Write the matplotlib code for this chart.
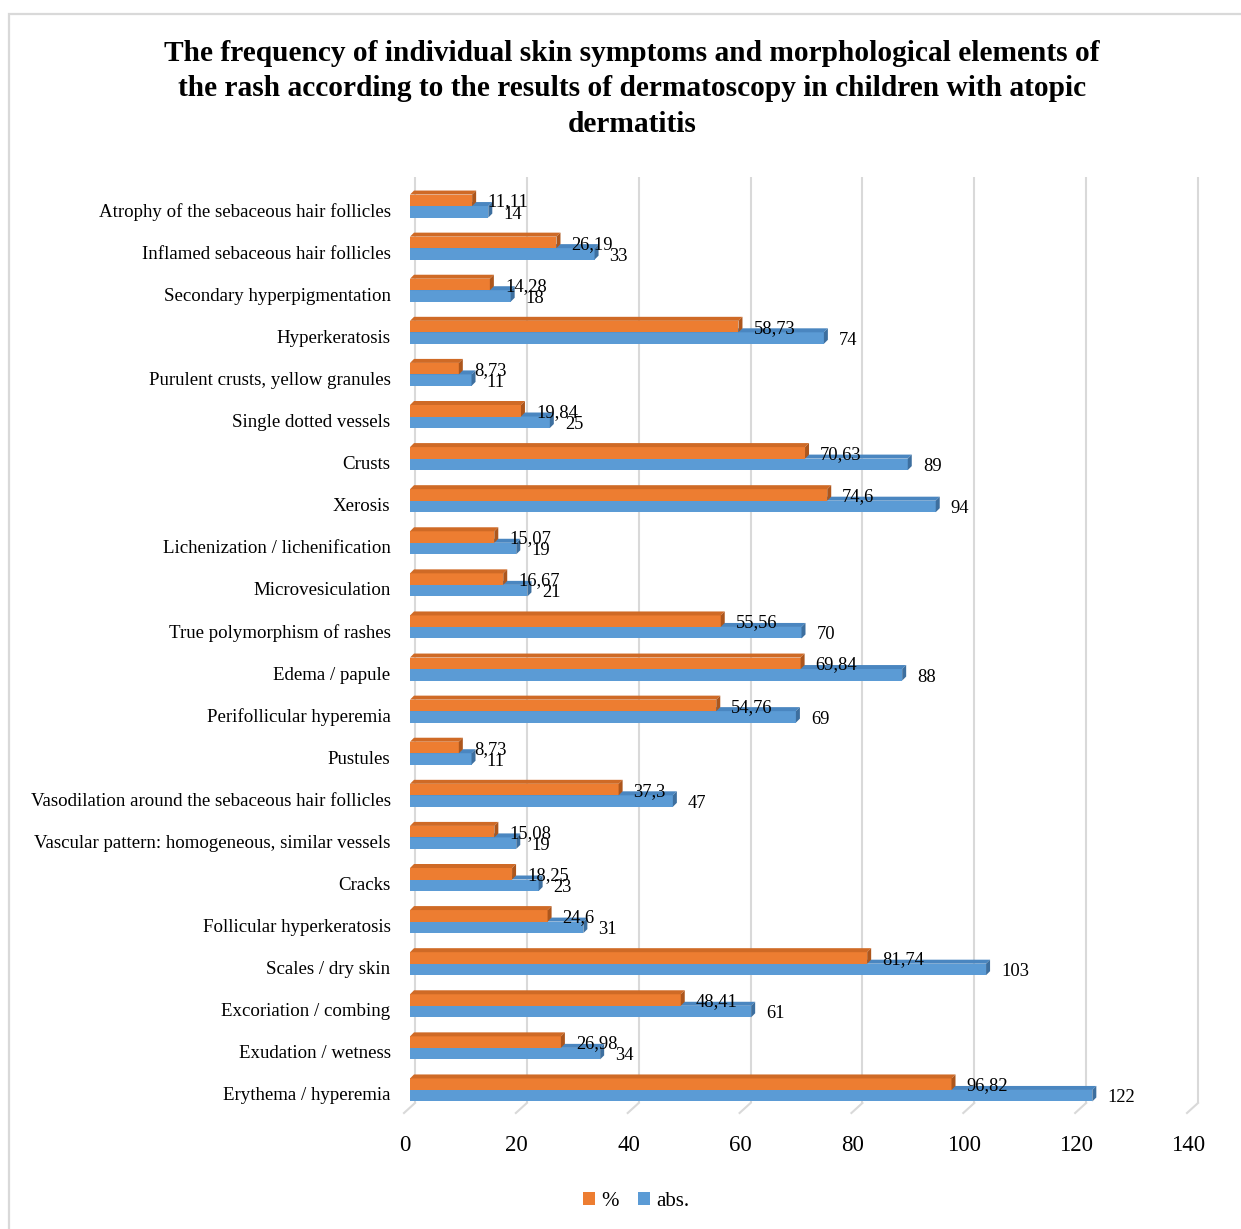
import matplotlib
matplotlib.use("Agg")
import matplotlib.pyplot as plt
from matplotlib.patches import Polygon, Rectangle, Patch
from matplotlib.transforms import ScaledTranslation

plt.rcParams['font.family'] = ['Liberation Serif', 'DejaVu Serif']

# Categories listed from the bottom of the chart to the top
categories = [
    "Erythema / hyperemia",
    "Exudation / wetness",
    "Excoriation / combing",
    "Scales / dry skin",
    "Follicular hyperkeratosis",
    "Cracks",
    "Vascular pattern: homogeneous, similar vessels",
    "Vasodilation around the sebaceous hair follicles",
    "Pustules",
    "Perifollicular hyperemia",
    "Edema / papule",
    "True polymorphism of rashes",
    "Microvesiculation",
    "Lichenization / lichenification",
    "Xerosis",
    "Crusts",
    "Single dotted vessels",
    "Purulent crusts, yellow granules",
    "Hyperkeratosis",
    "Secondary hyperpigmentation",
    "Inflamed sebaceous hair follicles",
    "Atrophy of the sebaceous hair follicles",
]
percent = [96.82, 26.98, 48.41, 81.74, 24.6, 18.25, 15.08, 37.3, 8.73, 54.76,
           69.84, 55.56, 16.67, 15.07, 74.6, 70.63, 19.84, 8.73, 58.73, 14.28,
           26.19, 11.11]
absolute = [122, 34, 61, 103, 31, 23, 19, 47, 11, 69, 88, 70, 21, 19, 94, 89,
            25, 11, 74, 18, 33, 14]
xticks = [0, 20, 40, 60, 80, 100, 120, 140]
series_names = ["%", "abs."]

title = ("The frequency of individual skin symptoms and morphological elements of\n"
         "the rash according to the results of dermatoscopy in children with atopic\n"
         "dermatitis")

W, H = 1241, 1229
fig = plt.figure(figsize=(W / 100, H / 100), dpi=100)
fig.patch.set_facecolor("white")

# outer chart-area border
fig.patches.append(Rectangle((9 / W, -0.05), 1.2, 1 - 14 / H + 0.05,
                             transform=fig.transFigure, fill=False,
                             edgecolor="#d9d9d9", linewidth=1.6, zorder=0))

ax_l, ax_r, ax_t, ax_b = 410, 1193, 185, 1111
ax = fig.add_axes([ax_l / W, 1 - ax_b / H, (ax_r - ax_l) / W, (ax_b - ax_t) / H])
ax.set_xlim(0, 140)
ax.set_ylim(-0.5, len(categories) - 0.5)
for s in ax.spines.values():
    s.set_visible(False)

px = 1 / 100.0
def off(dx, dy):
    return ScaledTranslation(dx * px, dy * px, fig.dpi_scale_trans)

x_per_px = 140 / (ax_r - ax_l)
y_per_px = len(categories) / (ax_b - ax_t)
y_axes_per_px = 1 / (ax_b - ax_t)

# gridlines on the back wall, joined to the front edge by a slanted floor line
grid_c = "#d9d9d9"
xa = ax.get_xaxis_transform()
for v in xticks:
    ax.plot([v, v], [0, 1], transform=xa + off(5, 8), color=grid_c,
            lw=1.5, zorder=1, clip_on=False, solid_capstyle="butt")
    ax.plot([v + 5 * x_per_px, v - 6 * x_per_px],
            [8 * y_axes_per_px, -2 * y_axes_per_px],
            transform=xa, color=grid_c, lw=1.5, zorder=1, clip_on=False)

# bars with a shallow 3-D look
dx, dy = 4 * x_per_px, 4 * y_per_px
bh = 11.5 * y_per_px

orange, orange_top, orange_side = "#ed7d31", "#cf6a26", "#ad561c"
blue, blue_top, blue_side = "#5b9bd5", "#4a86c0", "#3d6f9f"

ys = list(range(len(categories)))

def draw_3d(values, centers, front, top, side, z):
    bars = ax.barh(centers, values, height=bh, color=front, zorder=z,
                   linewidth=0)
    for rect in bars:
        x0, y0 = rect.get_x(), rect.get_y()
        w, h = rect.get_width(), rect.get_height()
        ax.add_patch(Polygon([(x0, y0 + h), (x0 + w, y0 + h),
                              (x0 + w + dx, y0 + h + dy), (x0 + dx, y0 + h + dy)],
                             closed=True, facecolor=top, edgecolor="none",
                             zorder=z))
        ax.add_patch(Polygon([(x0 + w, y0), (x0 + w, y0 + h),
                              (x0 + w + dx, y0 + h + dy), (x0 + w + dx, y0 + dy)],
                             closed=True, facecolor=side, edgecolor="none",
                             zorder=z))
    return bars

draw_3d(absolute, [y - bh / 2 for y in ys], blue, blue_top, blue_side, 3)
draw_3d(percent, [y + bh / 2 for y in ys], orange, orange_top, orange_side, 4)

def fmt(v):
    return f"{v:g}".replace(".", ",")

for y, p, a in zip(ys, percent, absolute):
    ax.annotate(fmt(p), xy=(p, y), xytext=(15, 4), textcoords="offset pixels",
                ha="left", va="center", fontsize=13.3, zorder=6)
    ax.annotate(fmt(a), xy=(a, y), xytext=(15, -8), textcoords="offset pixels",
                ha="left", va="center", fontsize=13.3, zorder=6)

# category labels
ax.set_yticks(ys)
ax.set_yticklabels(categories, fontsize=13.6)
ax.tick_params(axis="y", length=0, pad=14)
for lab in ax.get_yticklabels():
    lab.set_transform(lab.get_transform() + off(0, -4))

# value axis labels at the front edge of the floor
ax.set_xticks(xticks)
ax.set_xticklabels([str(t) for t in xticks], fontsize=16.5)
ax.tick_params(axis="x", length=0, pad=17)
for lab in ax.get_xticklabels():
    lab.set_transform(lab.get_transform() + off(-5, 0))

fig.text(632 / W, 1 - 40 / H, title, ha="center", va="top", fontsize=21.2,
         fontweight="bold", linespacing=1.4)

handles = [Patch(facecolor=orange, edgecolor="none"),
           Patch(facecolor=blue, edgecolor="none")]
fig.legend(handles, series_names, loc="center", ncol=2, frameon=False,
           bbox_to_anchor=(636 / W, 1 - 1201 / H), fontsize=15,
           handlelength=0.6, handleheight=0.6, handletextpad=0.3,
           columnspacing=0.9)

fig.savefig("out.png", dpi=100, facecolor="white")
